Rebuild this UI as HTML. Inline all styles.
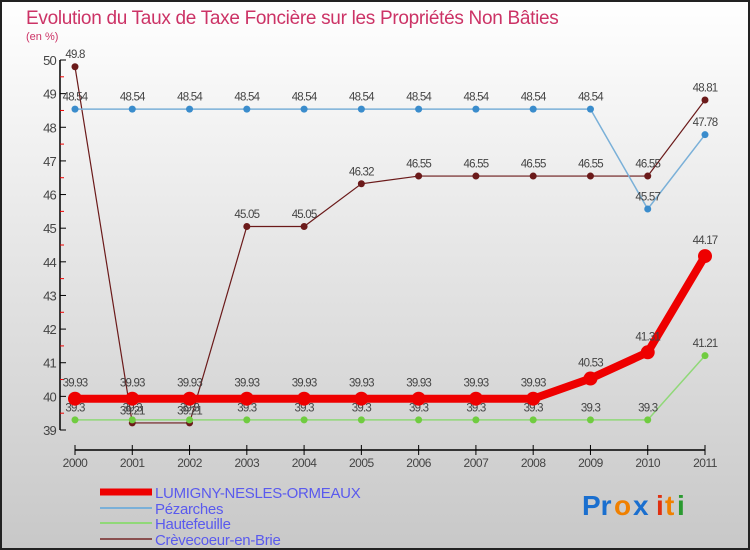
<!DOCTYPE html>
<html><head><meta charset="utf-8"><style>
body{margin:0;}
#wrap{position:relative;width:750px;height:550px;overflow:hidden;font-family:"Liberation Sans",sans-serif;}
svg text{font-family:"Liberation Sans",sans-serif;}
</style></head><body>
<div id="wrap">
<svg id="chart" width="750" height="550">
<defs><linearGradient id="bg" x1="0" y1="0" x2="0" y2="1"><stop offset="0" stop-color="#ffffff"/><stop offset="1" stop-color="#c8c8c8"/></linearGradient></defs>
<rect x="1" y="1" width="748" height="548" fill="url(#bg)" stroke="#222" stroke-width="2"/>
<text x="26" y="24" font-size="19" fill="#cc3366" letter-spacing="-0.3">Evolution du Taux de Taxe Foncière sur les Propriétés Non Bâties</text>
<text x="26" y="40" font-size="11" fill="#cc3366">(en %)</text>
<g id="axes"></g><g id="series"></g><g id="legend"></g>
<g font-size="28" font-weight="bold">
<text x="582" y="515" fill="#1a6fcf">Pr</text><text x="614" y="515" fill="#f08000">o</text><text x="633" y="515" fill="#1a6fcf">x</text><text x="656" y="515" fill="#e03010">i</text><text x="665" y="515" fill="#f08000">t</text><text x="677" y="515" fill="#2a9a30">i</text>
</g>
</svg>
</div>
<script>
const years=[2000,2001,2002,2003,2004,2005,2006,2007,2008,2009,2010,2011];
const yTicks=[39,40,41,42,43,44,45,46,47,48,49,50];
const seriesNames=["LUMIGNY-NESLES-ORMEAUX","Pézarches","Hautefeuille","Crèvecoeur-en-Brie"];
const lumignyValues=[39.93,39.93,39.93,39.93,39.93,39.93,39.93,39.93,39.93,40.53,41.31,44.17];
const pezarchesValues=[48.54,48.54,48.54,48.54,48.54,48.54,48.54,48.54,48.54,48.54,45.57,47.78];
const hautefeuilleValues=[39.3,39.3,39.3,39.3,39.3,39.3,39.3,39.3,39.3,39.3,39.3,41.21];
const crevecoeurValues=[49.8,39.21,39.21,45.05,45.05,46.32,46.55,46.55,46.55,46.55,46.55,48.81];

const NS="http://www.w3.org/2000/svg";
function X(i){return 75+i*(705-75)/(years.length-1);}
function Y(v){return 430-(v-39)*(430-60)/11;}
function mk(tag,attrs,parent){const e=document.createElementNS(NS,tag);for(const k in attrs)e.setAttribute(k,attrs[k]);parent.appendChild(e);return e;}
const axes=document.getElementById('axes');
let ya=mk('line',{x1:60,y1:60,x2:60,y2:430,stroke:'#000','stroke-width':1.5},axes);


yTicks.forEach(t=>{
  let l=mk('line',{x1:60,x2:66,y1:Y(t),y2:Y(t),stroke:'#000'},axes);
  
  
  if(t<50){let m=mk('line',{x1:60,x2:64,y1:Y(t+0.5),y2:Y(t+0.5),stroke:'#e00'},axes);
  
  }
  let tx=mk('text',{x:56,y:Y(t)+5,'text-anchor':'end','font-size':13,fill:'#444','letter-spacing':-0.8},axes);
  tx.textContent=t;
  
  
});
let xa=mk('line',{x1:X(0),y1:450,x2:X(years.length-1),y2:450,stroke:'#000','stroke-width':1.5},axes);


years.forEach((yr,i)=>{
  let l=mk('line',{x1:X(i),x2:X(i),y1:445,y2:455,stroke:'#000'},axes);
  
  
  let tx=mk('text',{x:X(i),y:467,'text-anchor':'middle','font-size':12,fill:'#444','letter-spacing':-0.5},axes);
  tx.textContent=yr;
  
  
});
const defs=[
 {vals:crevecoeurValues,color:'#6b1a1a',w:1.2,r:3.5,name:'crevecoeur'},
 {vals:pezarchesValues,color:'#3a8ccc',line:'#7ab0d8',w:1.5,r:3.5,name:'pezarches'},
 {vals:hautefeuilleValues,color:'#70cc40',line:'#90d878',w:1.5,r:3.5,name:'hautefeuille'},
 {vals:lumignyValues,color:'#ee0000',w:8,r:7,name:'lumigny'}
];
const sg=document.getElementById('series');
defs.forEach(d=>{
  const g=mk('g',{},sg);
  
  
  const pl=mk('polyline',{points:d.vals.map((v,i)=>X(i)+','+Y(v)).join(' '),fill:'none',stroke:d.line||d.color,'stroke-width':d.w},g);
  
  
  d.vals.forEach((v,i)=>{
    const c=mk('circle',{cx:X(i),cy:Y(v),r:d.r,fill:d.color},g);
    
    
    const t=mk('text',{x:X(i),y:Y(v)-(d.r+5),'text-anchor':'middle','font-size':11.5,fill:'#444','letter-spacing':-0.8},g);
    t.textContent=v;
    
    
  });
});
const lg=document.getElementById('legend');
const lcol=['#ee0000','#7ab0d8','#90d878','#8a5050'],lw=[7,2,2,2],ly=[492,508,523,539];
seriesNames.forEach((n,i)=>{
  const l=mk('line',{x1:100,x2:152,y1:ly[i],y2:ly[i],stroke:lcol[i],'stroke-width':lw[i]},lg);
  
  
  const t=mk('text',{x:155,y:ly[i]+6,'font-size':15,fill:'#5a5aee','letter-spacing':-0.3},lg);
  t.textContent=n;
  
  
});
</script>
</body></html>
